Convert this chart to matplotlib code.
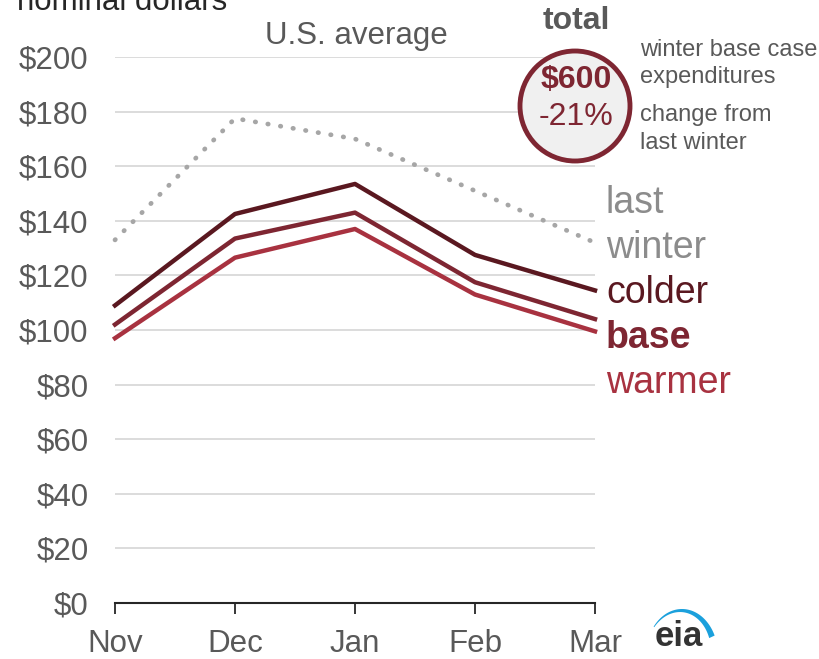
import numpy as np
import matplotlib.pyplot as plt
from matplotlib.patches import Circle, Polygon

plt.rcParams['font.family'] = ['Liberation Sans', 'DejaVu Sans']

months = ['Nov', 'Dec', 'Jan', 'Feb', 'Mar']
last_winter = [133, 177.5, 170, 151, 132]
colder = [109, 142.5, 153.5, 127.5, 114.5]
base = [102, 133.5, 143, 117.5, 104]
warmer = [97, 126.5, 137, 113, 99.5]
yticks = np.arange(0, 201, 20)

W, H = 820, 659
fig = plt.figure(figsize=(W / 100, H / 100), dpi=100)

def px(x, y):
    return x / W, 1 - y / H

l, b = px(115, 603)
r, t = px(595, 57)
ax = fig.add_axes([l, b, r - l, t - b])
x = np.arange(len(months))

for v in yticks[1:]:
    ax.axhline(v, color='#d9d9d9', lw=1.3, zorder=0)

ax.plot(x, last_winter, color='#a6a6a6', lw=3.4, linestyle=(0, (0.1, 2.6)),
        dash_capstyle='round', clip_on=False)
ax.plot(x, colder, color='#5a1820', lw=3.2, clip_on=False)
ax.plot(x, base, color='#7e2632', lw=3.2, clip_on=False)
ax.plot(x, warmer, color='#a83240', lw=3.2, clip_on=False)

ax.set_xlim(0, 4)
ax.set_ylim(0, 200)
for s in ['top', 'right', 'left']:
    ax.spines[s].set_visible(False)
ax.spines['bottom'].set_color('#262626')
ax.spines['bottom'].set_linewidth(1.5)
ax.set_xticks(x)
ax.set_xticklabels(months)
ax.set_yticks(yticks)
ax.set_yticklabels(['$%d' % v for v in yticks])
ax.tick_params(axis='x', length=8, width=1.3, color='#262626', labelsize=22.5,
               labelcolor='#595959', pad=11)
ax.tick_params(axis='y', length=0, labelsize=22.5, labelcolor='#595959', pad=19)

gray = '#595959'
fig.text(*px(17, 2), 'nominal dollars', fontsize=22.5, color='#262626', va='center')
fig.text(*px(356, 36), 'U.S. average', fontsize=22.5, color=gray, ha='center', va='center')

# total circle
fig.text(*px(576, 21), 'total', fontsize=23, color=gray, ha='center', va='center',
         weight='bold')
circ = Circle((575, H - 106), 55, transform=None, facecolor='#f0f0f0',
              edgecolor='#7e2632', lw=3.5)
fig.add_artist(circ)
fig.text(*px(576, 80), '$600', fontsize=23, color='#7e2632', ha='center', va='center',
         weight='bold')
fig.text(*px(576, 117), '-21%', fontsize=23, color='#7e2632', ha='center', va='center')
side = [('winter base case', 50), ('expenditures', 77),
        ('change from', 115), ('last winter', 143)]
for s, yy in side:
    fig.text(*px(640, yy), s, fontsize=17, color=gray, va='center')

# line labels
fig.text(*px(606, 203), 'last', fontsize=27, color='#8c8c8c', va='center')
fig.text(*px(606, 248), 'winter', fontsize=27, color='#8c8c8c', va='center')
fig.text(*px(606, 293), 'colder', fontsize=27, color='#5a1820', va='center')
fig.text(*px(606, 338), 'base', fontsize=27, color='#7e2632', va='center', weight='bold')
fig.text(*px(606, 383), 'warmer', fontsize=27, color='#a83240', va='center')

# eia logo
fig.text(*px(679, 637), 'eia', fontsize=25, color='#333333', ha='center', va='center',
         weight='bold')
th = np.radians(np.linspace(25, 142, 60))
thick = np.linspace(6, 0.8, 60)
ox = 682 + 36 * np.cos(th)
oy = 655 - 46 * np.sin(th)
ix = 682 + (36 - thick) * np.cos(th)
iy = 655 - (46 - thick) * np.sin(th)
pts = np.column_stack([np.r_[ox, ix[::-1]], H - np.r_[oy, iy[::-1]]])
fig.add_artist(Polygon(pts, closed=True, transform=None, facecolor='#1ba0dc',
                       edgecolor='none'))

fig.savefig('out.png', dpi=100)
